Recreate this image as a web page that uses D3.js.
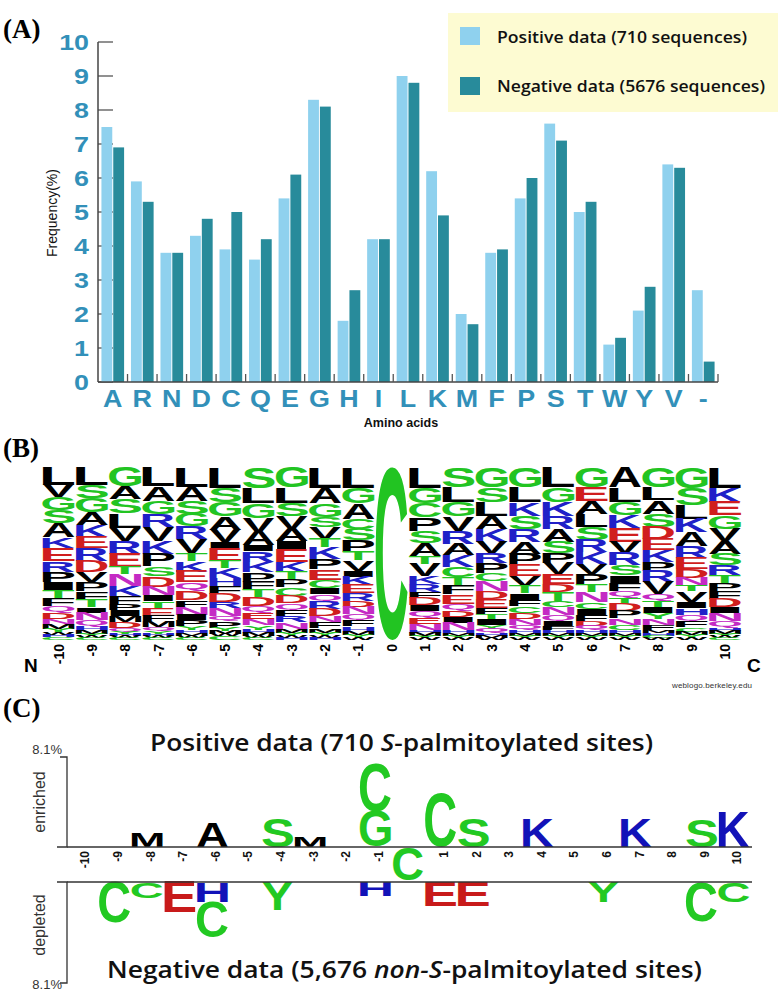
<!DOCTYPE html>
<html><head><meta charset="utf-8">
<script src="https://cdn.jsdelivr.net/npm/d3@7"></script>
<style>html,body{margin:0;padding:0;background:#fff;} svg{display:block}</style>
</head><body>
<svg id="chart" width="780" height="991"></svg>
<script>
// ---------- Panel A data ----------
const aminoAcids = ["A","R","N","D","C","Q","E","G","H","I","L","K","M","F","P","S","T","W","Y","V","-"];
const positiveFreq = [7.5,5.9,3.8,4.3,3.9,3.6,5.4,8.3,1.8,4.2,9.0,6.2,2.0,3.8,5.4,7.6,5.0,1.1,2.1,6.4,2.7];
const negativeFreq = [6.9,5.3,3.8,4.8,5.0,4.2,6.1,8.1,2.7,4.2,8.8,4.9,1.7,3.9,6.0,7.1,5.3,1.3,2.8,6.3,0.6];
const freqTicks = [0,1,2,3,4,5,6,7,8,9,10];
const seriesNames = ["Positive data (710 sequences)", "Negative data (5676 sequences)"];

// ---------- Panel B data (sequence logo, letters top to bottom) ----------
const logoPositions = [-10,-9,-8,-7,-6,-5,-4,-3,-2,-1,0,1,2,3,4,5,6,7,8,9,10];
const logoLetters = [
 "LVGSAKERPITFQDNMYWHC",
 "LSGAKERDVPFTINQHMYWC",
 "GASLVRETNKFPIMDQYHWC",
 "LAGRVKPSDNITEFMQYHWC",
 "LASGRVTKEQDFNIPYHMWC",
 "LSGAVIETKHFDRNQPYMWC",
 "SLGVAIRKPFTDQENYHMWC",
 "GLSVAIEKTPCDQFRNMYWH",
 "LAGSVTKPECIQRDNFMYWH",
 "LGACSPTVIKERDNQFHMYW",
 "C",
 "LGCPSATVKRFDIQENHMYW",
 "SLGVRAKCTFEQDINHMYW",
 "GSLAKVRPCNDEFTIYQHMW",
 "GLKSRAPEVTIFCDNQHMYW",
 "LGKRASPVEDTCNQIFHMYW",
 "GEALSRKVPTNCIFDQHMYW",
 "ALGKEVRSIFQTDPNCHMYW",
 "GLASDEKPRVQTIYNFMHCW",
 "GSLKAREDNTVIHQFCMYW",
 "LKEGVASRTPFDINQHMYWC"
];
const logoHeights = [
 [10,7,7.5,7.5,8,6,7.5,6,6,4.5,4.5,4.5,4,3.5,3,2.5,2,1.5,1.5,1.5],
 [10,7,7.5,7,6.5,6.5,7,6,5.5,5,4.5,4,3,4,3.5,2,2,1.5,1,1],
 [10,7,7.5,7.5,7,6.5,7,4,6,5.5,4,3.5,3,3,3,2,1.5,1,1,1],
 [10,7.5,7,6.5,7,6.5,6.5,5,5.5,4.5,3,3.5,4,3,3,2,1.5,1,1,1],
 [10,7.5,6.5,6.5,6.5,7,4,5.5,5.5,4.5,4.5,3.5,4,3,3,2,1.5,1.5,1,1],
 [10,7,7,6.5,6,3,6,3.5,5,4,3.5,4,3,4,2.5,3,1.5,1.5,1,2],
 [10,7.5,7,6.5,6.5,3,5,5,4.5,4,3.5,4,3.5,3,3,2,1.5,1.5,1,1],
 [10,7.5,6.5,6,6,4,6,5,3.5,4,4,3.5,3.5,3,3,3,2,1.5,1,1],
 [10,7.5,6.5,5,5.5,4,5.5,5,5,4,3,3.5,3.5,3.5,3,3,2,1.5,1,1],
 [10,7.5,7.5,5,5.5,5.5,4,5,3,4,4,3.5,3,3.5,3,3,2,2,1.5,1],
 [100],
 [10,7.5,7,6.5,6,6,4,6,4,3.5,3,3.5,3,3,3,3,1.5,1.5,1,1],
 [10,7.5,7,7,6.5,5.5,6,5,4,4.5,4.5,3.5,3,3,3.5,1.5,1.5,1,1],
 [10,7.5,7,6.5,6.5,5.5,5,5,4,5,4,4.5,3,2.5,3,2,2,1.5,1,1],
 [10,7.5,6.5,6.5,6.5,6,5.5,5.5,5,3.5,3,3,3.5,3,3,2.5,1.5,1.5,1,1],
 [10,7.5,7,6.5,6.5,6,5,5.5,5,4,4.5,3,4,3,2.5,2,1.5,1.5,1,1],
 [10,7,6.5,6.5,6.5,6,5.5,5,5,4,5,3.5,3,3,2.5,2,1.5,1.5,1,1],
 [10,7,6.5,6.5,6.5,5.5,6,5,4,3.5,3.5,3,3.5,3.5,3,2.5,1.5,1.5,1,1],
 [10,6.5,6.5,6.5,6,5.5,6,4.5,5.5,6,3,3,3,3,3,2.5,1.5,1.5,1,1],
 [10,8,6.5,6.5,6.5,5.5,5.5,4,3.5,3,5,3,3,3,3,2,1.5,1.5,1],
 [10,7,6.5,6.5,6,6,5.5,5,4,4,3.5,4,3,4,3,1.5,1.5,1,1,1]
];

// ---------- Panel C data (two-sample logo, % difference) ----------
const cPositions = [-10,-9,-8,-7,-6,-5,-4,-3,-2,-1,0,1,2,3,4,5,6,7,8,9,10];
const cAxisLabels = ["-10","-9","-8","-7","-6","-5","-4","-3","-2","-1","","1","2","3","4","5","6","7","8","9","10"];
const enrichedPos = [-8,-6,-4,-3,-1,-1,1,2,4,7,9,10];
const enrichedLetter = ["M","A","S","M","G","C","C","S","K","K","S","K"];
const enrichedValue = [1.26,2.16,2.6,0.9,3.2,4.4,4.86,2.6,2.6,2.6,2.43,3.15];
const depletedPos = [-9,-8,-7,-6,-6,-4,-1,1,2,6,9,10];
const depletedLetter = ["C","C","E","H","C","Y","H","E","E","Y","C","C"];
const depletedValue = [3.29,1.28,2.41,1.6,2.89,2.25,1.12,1.92,1.92,1.6,3.21,1.6];
const centerPos = 0, centerLetter = "C";
const cScaleMax = 8.1;

// ---------- helpers ----------
const svg = d3.select("#chart");
svg.append("rect").attr("width",780).attr("height",991).attr("fill","#fff");
const SANS = "'Liberation Sans', Arial, sans-serif";
const SERIF = "'Liberation Serif', 'Times New Roman', serif";
const CAL = "'Open Sans', sans-serif";

const ctx = document.createElement("canvas").getContext("2d");
ctx.font = "bold 100px 'Liberation Sans'";
const metricCache = {};
function metrics(ch){
  if(!metricCache[ch]){
    const m = ctx.measureText(ch);
    metricCache[ch] = {l:m.actualBoundingBoxLeft, r:m.actualBoundingBoxRight, a:m.actualBoundingBoxAscent, d:m.actualBoundingBoxDescent};
  }
  return metricCache[ch];
}
function drawLetter(g, ch, x0, y0, w, h, color){
  if(h < 0.3) return;
  const m = metrics(ch);
  const sx = w/(m.l+m.r), sy = h/(m.a+m.d);
  g.append("text")
    .attr("transform", `translate(${x0 + m.l*sx},${y0 + m.a*sy}) scale(${sx},${sy})`)
    .attr("font-family", SANS).attr("font-weight","bold").attr("font-size",100)
    .attr("fill", color).text(ch);
}
const logoColor = ch => {
  if("GSTYC".includes(ch)) return "#22c422";
  if("NQ".includes(ch)) return "#c42ac4";
  if("KRH".includes(ch)) return "#2020c8";
  if("DE".includes(ch)) return "#d01e1e";
  return "#000";
};
const cColor = ch => {
  if("GSTYC".includes(ch)) return "#22c922";
  if("KRH".includes(ch)) return "#1212b8";
  if("DE".includes(ch)) return "#c81a1a";
  return "#000";
};

// ---------- panel labels ----------
[["(A)",38],["(B)",457],["(C)",717]].forEach(([t,y])=>{
  svg.append("text").attr("x",3).attr("y",y).attr("font-family",SERIF)
    .attr("font-weight","bold").attr("font-size",27).attr("fill","#000").text(t);
});

// ---------- Panel A ----------
const gA = svg.append("g");
const xA = d3.scaleBand().domain(aminoAcids).range([98,718]);
const yA = d3.scaleLinear().domain([0,10]).range([382,42]);
const xSub = d3.scaleBand().domain([0,1]).range([0,xA.bandwidth()]).paddingInner(0.083).paddingOuter(0.29);
const barColors = ["#8fd1ee","#288b9b"];
const tickBlue = "#3290b9";

gA.selectAll(".ytick").data(freqTicks).join("line")
  .attr("x1",98).attr("x2",113).attr("y1",d=>yA(d)).attr("y2",d=>yA(d))
  .attr("stroke","#555").attr("stroke-width",1.3);

[positiveFreq, negativeFreq].forEach((vals,si)=>{
  gA.append("g").selectAll("rect").data(aminoAcids).join("rect")
    .attr("x",(d)=>xA(d)+xSub(si)).attr("width",xSub.bandwidth())
    .attr("y",(d,i)=>yA(vals[i])).attr("height",(d,i)=>yA(0)-yA(vals[i]))
    .attr("fill",barColors[si]);
});

gA.append("line").attr("x1",98).attr("x2",98).attr("y1",yA(10)).attr("y2",yA(0)).attr("stroke","#444").attr("stroke-width",1.5);
gA.append("line").attr("x1",98).attr("x2",xA.range()[1]).attr("y1",yA(0)).attr("y2",yA(0)).attr("stroke","#444").attr("stroke-width",1.5);
gA.selectAll(".xtick").data(aminoAcids).join("line")
  .attr("x1",d=>xA(d)+xA.bandwidth()).attr("x2",d=>xA(d)+xA.bandwidth())
  .attr("y1",yA(0)).attr("y2",yA(0)-8).attr("stroke","#555").attr("stroke-width",1.3);

gA.selectAll(".ylab").data(freqTicks).join("text")
  .attr("transform",d=>`translate(89,${yA(d)+8}) scale(1.22,1)`)
  .attr("text-anchor","end").attr("font-family",SANS).attr("font-weight","bold")
  .attr("font-size",22).attr("fill",tickBlue).text(d=>d);
gA.selectAll(".xlab").data(aminoAcids).join("text")
  .attr("transform",d=>`translate(${xA(d)+xA.bandwidth()/2},407) scale(1.12,1)`)
  .attr("text-anchor","middle").attr("font-family",SANS).attr("font-weight","bold")
  .attr("font-size",24).attr("fill",tickBlue).text(d=>d);

gA.append("text").attr("transform","translate(57,213) rotate(-90)").attr("text-anchor","middle")
  .attr("font-family",SANS).attr("font-size",14).attr("fill","#111").text("Frequency(%)");
gA.append("text").attr("x",401).attr("y",427).attr("text-anchor","middle")
  .attr("font-family",SANS).attr("font-weight","bold").attr("font-size",12.5).attr("fill","#111").text("Amino acids");

gA.append("rect").attr("x",448).attr("y",13).attr("width",330).attr("height",99).attr("fill","#fdfbd2");
[[27,43,250],[77,92,268]].forEach(([sy,ty,tl],i)=>{
  gA.append("rect").attr("x",460).attr("y",sy).attr("width",20).attr("height",18).attr("fill",barColors[i]);
  gA.append("text").attr("x",497).attr("y",ty).attr("font-family",CAL).attr("font-weight",600)
    .attr("font-size",17).attr("fill","#111").attr("textLength",tl).attr("lengthAdjust","spacingAndGlyphs")
    .text(seriesNames[i]);
});

// ---------- Panel B ----------
const gB = svg.append("g");
const xB = d3.scalePoint().domain(logoPositions).range([58.5,725]);
const stackTop = 467, stackBottom = 640;
const letterWB = 32;
logoPositions.forEach((p,ci)=>{
  const letters = logoLetters[ci].split("");
  const hs = logoHeights[ci];
  const total = d3.sum(hs);
  const yB = d3.scaleLinear().domain([0,total]).range([stackTop,stackBottom]);
  let acc = 0;
  letters.forEach((ch,li)=>{
    const y0 = yB(acc), y1 = yB(acc+hs[li]);
    drawLetter(gB, ch, xB(p)-letterWB/2, y0, letterWB, y1-y0, logoColor(ch));
    acc += hs[li];
  });
});
gB.selectAll(".blab").data(logoPositions).join("text")
  .attr("transform",d=>`translate(${xB(d)},644) rotate(-90)`)
  .attr("text-anchor","end").attr("dy","0.36em").attr("font-family",SANS).attr("font-weight","bold")
  .attr("font-size",14).attr("fill","#000").text(d=>d);
gB.append("text").attr("x",24).attr("y",672).attr("font-family",SANS).attr("font-weight","bold").attr("font-size",19).text("N");
gB.append("text").attr("x",747).attr("y",672).attr("font-family",SANS).attr("font-weight","bold").attr("font-size",19).text("C");
gB.append("text").attr("x",672).attr("y",688).attr("font-family",SANS).attr("font-size",8).attr("fill","#333")
  .attr("textLength",80).text("weblogo.berkeley.edu");

// ---------- Panel C ----------
const gC = svg.append("g");
const xC = d3.scalePoint().domain(cPositions).range([82,734]);
const upY = d3.scaleLinear().domain([0,cScaleMax]).range([847,757]);
const downY = d3.scaleLinear().domain([0,cScaleMax]).range([882,983]);
const letterWC = 31;

const t1 = gC.append("text").attr("x",150).attr("y",751).attr("font-family",CAL).attr("font-weight",600)
  .attr("font-size",23).attr("fill","#111").attr("textLength",503).attr("lengthAdjust","spacingAndGlyphs");
t1.append("tspan").text("Positive data (710 ");
t1.append("tspan").attr("font-style","italic").text("S");
t1.append("tspan").text("-palmitoylated sites)");
const t2 = gC.append("text").attr("x",107).attr("y",978).attr("font-family",CAL).attr("font-weight",600)
  .attr("font-size",23).attr("fill","#111").attr("textLength",595).attr("lengthAdjust","spacingAndGlyphs");
t2.append("tspan").text("Negative data (5,676 ");
t2.append("tspan").attr("font-style","italic").text("non-S");
t2.append("tspan").text("-palmitoylated sites)");

const accUp = {};
enrichedPos.forEach((p,i)=>{
  const a = accUp[p]||0;
  const yBot = upY(a), yTop = upY(a+enrichedValue[i]);
  drawLetter(gC, enrichedLetter[i], xC(p)-letterWC/2, yTop, letterWC, yBot-yTop, cColor(enrichedLetter[i]));
  accUp[p] = a+enrichedValue[i];
});
const accDown = {};
depletedPos.forEach((p,i)=>{
  const a = accDown[p]||0;
  const yT = downY(a), yB2 = downY(a+depletedValue[i]);
  drawLetter(gC, depletedLetter[i], xC(p)-letterWC/2, yT, letterWC, yB2-yT, cColor(depletedLetter[i]));
  accDown[p] = a+depletedValue[i];
});
drawLetter(gC, centerLetter, xC(centerPos)-15, upY(0)+0.5, 30, downY(0)-upY(0)-2.5, cColor(centerLetter));

gC.selectAll(".clab").data(cPositions).join("text")
  .attr("transform",d=>`translate(${xC(d)+3},851) rotate(-90)`)
  .attr("text-anchor","end").attr("dy","0.36em").attr("font-family",SANS).attr("font-weight","bold")
  .attr("font-size",12).attr("fill","#111").text((d,i)=>cAxisLabels[i]);

const axc = "#333";
gC.append("line").attr("x1",67).attr("x2",752).attr("y1",upY(0)).attr("y2",upY(0)).attr("stroke",axc).attr("stroke-width",1.5);
gC.append("line").attr("x1",67).attr("x2",752).attr("y1",downY(0)).attr("y2",downY(0)).attr("stroke",axc).attr("stroke-width",1.5);
gC.append("path").attr("d",`M60,${upY(cScaleMax)}H67V${upY(0)}H57`).attr("fill","none").attr("stroke",axc).attr("stroke-width",1.3);
gC.append("path").attr("d",`M57,${downY(0)}H67V${downY(cScaleMax)}H60`).attr("fill","none").attr("stroke",axc).attr("stroke-width",1.3);
gC.append("text").attr("x",62).attr("y",754).attr("text-anchor","end").attr("font-family",SANS).attr("font-size",13).attr("fill","#333").text(cScaleMax+"%");
gC.append("text").attr("x",62).attr("y",989).attr("text-anchor","end").attr("font-family",SANS).attr("font-size",13).attr("fill","#333").text(cScaleMax+"%");
gC.append("text").attr("transform","translate(45,802) rotate(-90)").attr("text-anchor","middle")
  .attr("font-family",SANS).attr("font-size",16).attr("fill","#333").text("enriched");
gC.append("text").attr("transform","translate(45,925) rotate(-90)").attr("text-anchor","middle")
  .attr("font-family",SANS).attr("font-size",16).attr("fill","#333").text("depleted");
</script>
</body></html>
